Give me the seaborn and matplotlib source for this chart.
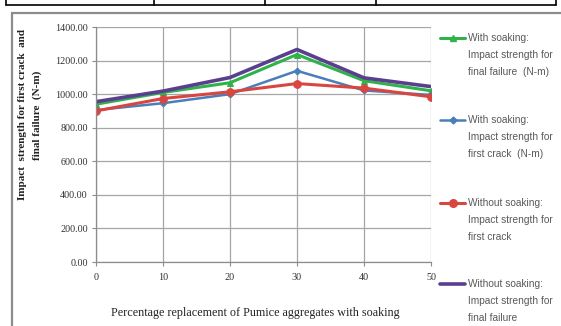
import matplotlib
matplotlib.use("Agg")
import matplotlib.pyplot as plt
from matplotlib.lines import Line2D
import seaborn as sns
import pandas as pd

# Percentage replacement of pumice aggregates
pct = [0, 10, 20, 30, 40, 50]

# Impact strength (N-m)
with_soak_final = [940, 1010, 1068, 1236, 1080, 1020]
with_soak_first = [905, 946, 1000, 1139, 1022, 995]
without_soak_first = [900, 974, 1014, 1063, 1036, 984]
without_soak_final = [955, 1018, 1099, 1266, 1097, 1045]

series_names = [
    "With soaking:\nImpact strength for\nfinal failure  (N-m)",
    "With soaking:\nImpact strength for\nfirst crack  (N-m)",
    "Without soaking:\nImpact strength for\nfirst crack",
    "Without soaking:\nImpact strength for\nfinal failure",
]
series_values = [with_soak_final, with_soak_first, without_soak_first, without_soak_final]
colors = ["#2fb24a", "#4a7ebb", "#d9453f", "#5b3f8f"]
markers = ["^", "D", "o", "None"]
msizes = [4, 3.5, 5.5, 0]
lwidths = [2.2, 1.8, 2.2, 2.6]

y_ticks = [0, 200, 400, 600, 800, 1000, 1200, 1400]

sns.set_theme(style="white")
plt.rcParams["font.family"] = ["Liberation Serif", "DejaVu Serif"]

fig = plt.figure(figsize=(5.61, 3.26), dpi=100)

# table edge above the chart
line_kw = dict(color="black", lw=1.2, transform=fig.transFigure)
fig.add_artist(Line2D([6 / 561, 556 / 561], [1 - 4.5 / 326] * 2, **line_kw))
for xp in [6, 154, 265, 376, 556]:
    fig.add_artist(Line2D([xp / 561] * 2, [1.0, 1 - 4.5 / 326], **line_kw))

# chart frame
frame_kw = dict(color="#8c8c8c", lw=1.6, transform=fig.transFigure)
fig.add_artist(Line2D([11.5 / 561, 1.0], [1 - 12.5 / 326] * 2, **frame_kw))
fig.add_artist(Line2D([11.5 / 561] * 2, [0.0, 1 - 12.5 / 326], **frame_kw))

ax = fig.add_axes([96 / 561, 1 - 262 / 326, 335 / 561, 235 / 326])

for name, vals, c, m, ms, lw in zip(series_names, series_values, colors, markers, msizes, lwidths):
    df = pd.DataFrame({"pct": pct, "val": vals})
    sns.lineplot(data=df, x="pct", y="val", ax=ax, color=c, marker=m,
                 markersize=ms, markeredgecolor=c, linewidth=lw, legend=False)

ax.set_xlim(0, 50)
ax.set_ylim(0, 1400)
ax.set_xticks(pct)
ax.set_xticklabels([str(p) for p in pct])
ax.set_yticks(y_ticks)
ax.set_yticklabels([f"{v:.2f}" for v in y_ticks])
ax.grid(True, color="#a6a6a6", lw=0.9)
ax.set_axisbelow(True)
for s in ["top", "right"]:
    ax.spines[s].set_visible(False)
for s in ["left", "bottom"]:
    ax.spines[s].set_color("#8c8c8c")
    ax.spines[s].set_linewidth(0.9)
ax.tick_params(axis="both", labelsize=7.3, colors="#8c8c8c", labelcolor="#333333",
               length=3, width=0.8, direction="out", left=True, bottom=True, pad=3)
ax.tick_params(axis="x", pad=5)
ax.set_xlabel("")
ax.set_ylabel("")

fig.text(255 / 561, 1 - 313 / 326, "Percentage replacement of Pumice aggregates with soaking",
         ha="center", va="center", fontsize=8.7, color="#222222")
fig.text(23 / 561, 1 - 115 / 326, "Impact  strength for first crack  and",
         rotation=90, ha="center", va="center", fontsize=8, fontweight="bold", color="#222222")
fig.text(37 / 561, 1 - 115 / 326, "final failure  (N-m)",
         rotation=90, ha="center", va="center", fontsize=8, fontweight="bold", color="#222222")

# legend entries to the right of the plot
entry_y = [38, 120, 203, 284]
for name, c, m, ms, lw, ey in zip(series_names, colors, markers, msizes, lwidths, entry_y):
    yf = 1 - ey / 326
    fig.add_artist(Line2D([440 / 561, 465 / 561], [yf, yf], color=c, lw=lw,
                          transform=fig.transFigure))
    if m != "None":
        fig.add_artist(Line2D([452.5 / 561], [yf], color=c, marker=m, markersize=ms,
                              markeredgecolor=c, transform=fig.transFigure))
    for i, ln in enumerate(name.split("\n")):
        fig.text(468 / 561, 1 - (ey + 17 * i) / 326, ln, ha="left", va="center",
                 fontsize=7.3, color="#595959", family=["Liberation Sans", "DejaVu Sans"])

fig.savefig("out.png", dpi=100)
